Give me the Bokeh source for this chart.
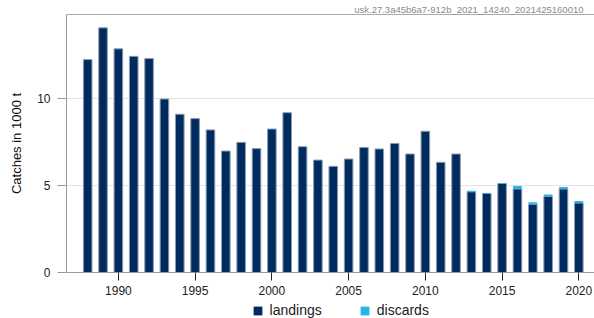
from bokeh.plotting import figure
from bokeh.models import (Range1d, LinearAxis, FixedTicker, Legend, LegendItem,
                          Title, ColumnDataSource)
from bokeh.layouts import column
from bokeh.embed import file_html
from bokeh.resources import INLINE

years = list(range(1988, 2021))
landings = [12.27, 14.10, 12.89, 12.46, 12.33, 10.00, 9.12, 8.87, 8.22, 7.00,
            7.50, 7.14, 8.27, 9.21, 7.25, 6.48, 6.12, 6.54, 7.21, 7.12,
            7.44, 6.83, 8.14, 6.35, 6.83, 4.65, 4.56, 5.13, 4.81, 3.93,
            4.38, 4.81, 4.00]
discards = [0.0] * 25 + [0.06, 0.02, 0.03, 0.17, 0.12, 0.12, 0.12, 0.12]
y_ticks = [0, 5, 10]
x_ticks = [1990, 1995, 2000, 2005, 2010, 2015, 2020]
series = ["landings", "discards"]
colors = ["#002b5f", "#28b3e8"]
y_label = "Catches in 1000 t"
watermark = "usk.27.3a45b6a7-912b_2021_14240_2021425160010"

FONT = "Liberation Sans"

src = ColumnDataSource(dict(year=years, landings=landings, discards=discards))

p = figure(width=594, height=300, output_backend="svg", toolbar_location=None,
           title=None,
           x_range=Range1d(1986.62, 2021.02), y_range=Range1d(0, 14.87),
           min_border_left=66, min_border_right=0, min_border_top=14,
           min_border_bottom=28)
p.outline_line_color = None
p.background_fill_color = "white"
p.border_fill_color = "white"

renderers = p.vbar_stack(series, x="year", width=0.56, source=src,
                         fill_color=colors, line_color=["#8c9cb5", None],
                         line_width=1)

# axes
p.xaxis.ticker = FixedTicker(ticks=x_ticks)
p.xaxis.axis_line_color = "#9a9a9a"
p.xaxis.major_tick_line_color = "#222222"
p.xaxis.major_tick_out = 8
p.xaxis.major_tick_in = 0
p.xaxis.minor_tick_line_color = None
p.xaxis.major_label_standoff = 5
p.xaxis.major_label_text_font = FONT
p.xaxis.major_label_text_font_size = "12px"
p.xaxis.major_label_text_color = "#222222"

p.yaxis.ticker = FixedTicker(ticks=y_ticks)
p.yaxis.axis_line_color = "#9a9a9a"
p.yaxis.major_tick_line_color = "#9a9a9a"
p.yaxis.major_tick_out = 9
p.yaxis.major_tick_in = 0
p.yaxis.minor_tick_line_color = None
p.yaxis.major_label_standoff = 7
p.yaxis.major_label_text_font = FONT
p.yaxis.major_label_text_font_size = "12px"
p.yaxis.major_label_text_color = "#222222"
p.yaxis.axis_label = y_label
p.yaxis.axis_label_text_font = FONT
p.yaxis.axis_label_text_font_size = "13px"
p.yaxis.axis_label_text_font_style = "normal"
p.yaxis.axis_label_text_color = "#111111"
p.yaxis.axis_label_standoff = 10

p.xgrid.grid_line_color = None
p.ygrid.grid_line_color = "#e3e3e3"
p.ygrid.grid_line_width = 1

top = LinearAxis(ticker=FixedTicker(ticks=[]), axis_line_color="#aaaaaa",
                 major_tick_out=0, major_tick_in=0, minor_tick_out=0,
                 minor_tick_in=0, major_label_text_font_size="0px")
p.add_layout(top, "above")

wm = Title(text=watermark, align="right", vertical_align="bottom",
           text_font=FONT, text_font_size="9.5px", text_font_style="normal",
           text_color="#8a8a8a", standoff=0, offset=11)
p.add_layout(wm, "above")

# legend strip below the chart (its bars lie outside its view; only the legend shows)
leg = figure(width=594, height=18, output_backend="svg", toolbar_location=None,
             title=None, x_axis_type=None, y_axis_type=None,
             x_range=Range1d(0, 1), y_range=Range1d(0, 1),
             min_border_left=0, min_border_right=0, min_border_top=0,
             min_border_bottom=0)
leg.outline_line_color = None
leg.xgrid.grid_line_color = None
leg.ygrid.grid_line_color = None
leg_r = leg.vbar_stack(series, x="year", width=0.56, source=src,
                       fill_color=colors, line_color=None)
legend = Legend(items=[LegendItem(label=s, renderers=[r]) for s, r in zip(series, leg_r)],
                orientation="horizontal", location=(185.6, 0),
                padding=0, margin=0, spacing=37, glyph_width=11, glyph_height=11,
                label_standoff=7, label_height=11,
                label_text_font=FONT, label_text_font_size="14px",
                label_text_color="#222222",
                border_line_color=None, background_fill_alpha=0)
leg.add_layout(legend, "center")

layout = column(p, leg, spacing=0)
open("out.html", "w").write(file_html(layout, INLINE))
